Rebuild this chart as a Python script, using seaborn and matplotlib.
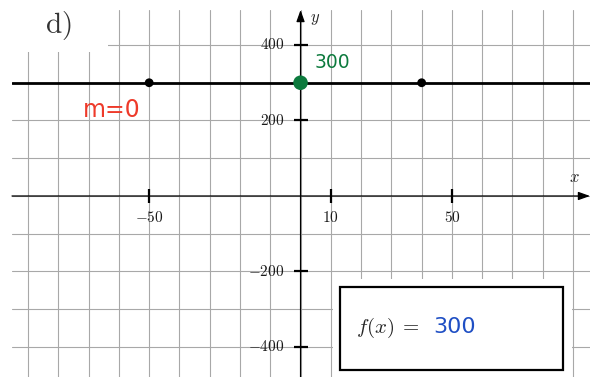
import numpy as np
import pandas as pd
import seaborn as sns
import matplotlib.pyplot as plt
from matplotlib.patches import Rectangle

# constant function f(x) = 300, slope m = 0
slope = 0
intercept = 300
point_x = [-50, 0, 40]
line_x = [-95.3, 95.6]
x_ticks = [-50, 10, 50]
y_ticks = [-400, -200, 200, 400]
grid_x = list(range(-90, 100, 10))
grid_y = list(range(-400, 500, 100))

W, H = 597, 377

sns.set_style("white")
plt.rcParams["mathtext.fontset"] = "cm"
plt.rcParams["font.family"] = ["DejaVu Sans"]


def px(x, y):
    # pixel position -> figure fraction
    return x / W, 1 - y / H


fig = plt.figure(figsize=(W / 100, H / 100), dpi=100)
ax = fig.add_axes([12 / W, 0, 578 / W, 367 / H])
ax.set_xlim(-95.3, 95.6)
ax.set_ylim(-479.5, 492.7)
for s in ax.spines.values():
    s.set_visible(False)

ax.set_xticks(grid_x)
ax.set_yticks(grid_y)
ax.tick_params(length=0, labelbottom=False, labelleft=False)
ax.grid(True, color="#a8a8a8", linewidth=0.8)
ax.set_axisbelow(True)

# white patches hiding the grid behind the labels
fig.add_artist(Rectangle(px(0, 52), 108 / W, 52 / H, transform=fig.transFigure,
                         facecolor="white", edgecolor="none", zorder=1))
fig.add_artist(Rectangle(px(333, 377), 239 / W, 98 / H, transform=fig.transFigure,
                         facecolor="white", edgecolor="none", zorder=1))

# axes with arrows
ax.annotate("", xy=(95.6, 0), xytext=(-95.3, 0),
            arrowprops=dict(arrowstyle="-|>,head_length=0.7,head_width=0.25",
                            color="black", lw=0.9, shrinkA=0, shrinkB=0))
ax.annotate("", xy=(0, 492.7), xytext=(0, -479.5),
            arrowprops=dict(arrowstyle="-|>,head_length=0.7,head_width=0.25",
                            color="black", lw=0.9, shrinkA=0, shrinkB=0))

ax.plot(x_ticks, [0] * len(x_ticks), ls="none", marker="|", ms=10, mew=1.6, color="black")
ax.plot([0] * len(y_ticks), y_ticks, ls="none", marker="_", ms=10, mew=1.6, color="black")

for t in x_ticks:
    ax.annotate(f"${t}$", xy=(t, 0), xytext=(0, -22), textcoords="offset pixels",
                ha="center", va="center", fontsize=11, color="#1a1a1a")
for t in y_ticks:
    ax.annotate(f"${t}$", xy=(0, t), xytext=(-16, 0), textcoords="offset pixels",
                ha="right", va="center", fontsize=11, color="#1a1a1a")

ax.annotate("$x$", xy=(95.6, 0), xytext=(-16, 19), textcoords="offset pixels",
            ha="center", va="center", fontsize=12)
ax.annotate("$y$", xy=(0, 492.7), xytext=(15, -8), textcoords="offset pixels",
            ha="center", va="center", fontsize=12)

# the line y = m*x + b and its points
df_line = pd.DataFrame({"x": line_x, "y": [slope * v + intercept for v in line_x]})
sns.lineplot(data=df_line, x="x", y="y", color="black", linewidth=2.0, ax=ax, zorder=3)
df_pts = pd.DataFrame({"x": point_x, "y": [slope * v + intercept for v in point_x]})
sns.scatterplot(data=df_pts[df_pts.x != 0], x="x", y="y", color="black", s=40,
                edgecolor="none", ax=ax, zorder=4)
sns.scatterplot(data=df_pts[df_pts.x == 0], x="x", y="y", color="#0c7a3d", s=110,
                edgecolor="none", ax=ax, zorder=5)
ax.set_xlabel("")
ax.set_ylabel("")

# annotations
fig.text(*px(58, 26), r"$\mathrm{d)}$", fontsize=21, ha="center", va="center", color="#333333")
fig.text(*px(112, 110), "m=0", fontsize=17, ha="center", va="center", color="#ee3a2a")
fig.text(*px(332, 62), "300", fontsize=13.5, ha="center", va="center", color="#0c7a3d")

fig.add_artist(Rectangle(px(340, 370), 223 / W, 83 / H, transform=fig.transFigure,
                         facecolor="white", edgecolor="black", linewidth=1.6, zorder=2))
fig.text(*px(356, 328), r"$f(x)\;=$", fontsize=15, ha="left", va="center", zorder=3)
fig.text(*px(433, 327), "300", fontsize=16, ha="left", va="center", color="#1f4fc4", zorder=3)

fig.savefig("out.png", dpi=100)
